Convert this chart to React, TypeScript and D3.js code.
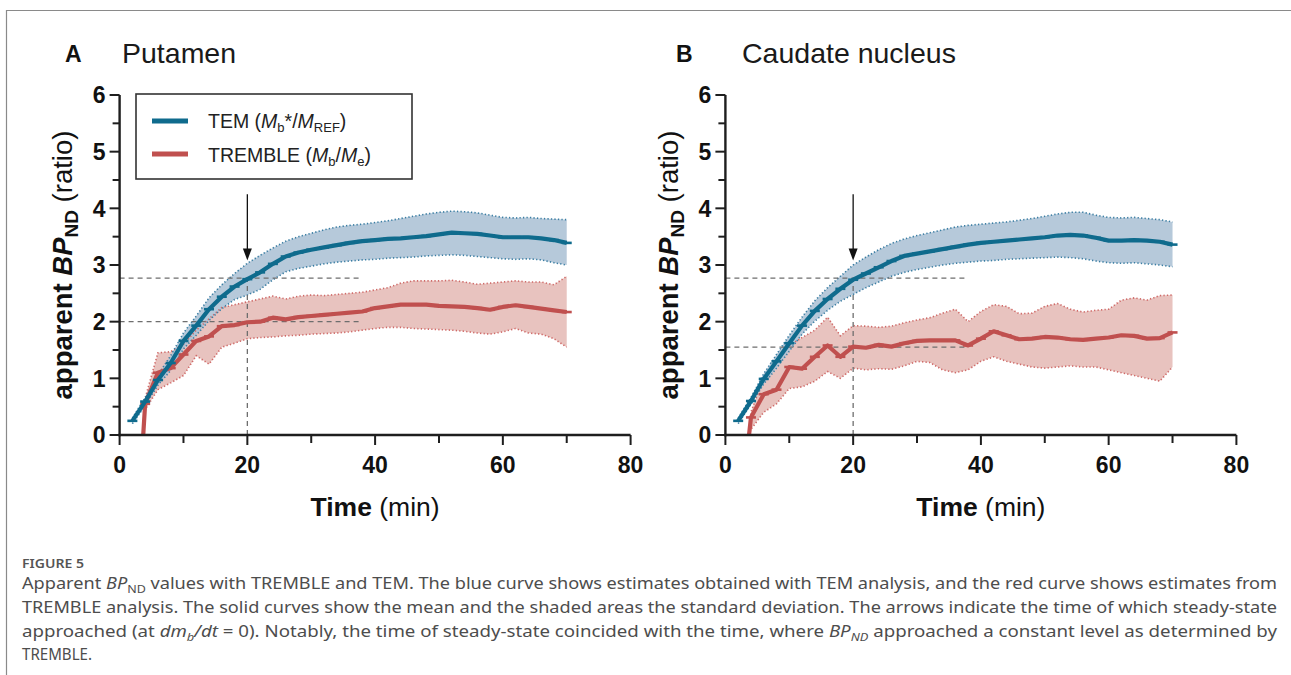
import React from "react";
import * as d3 from "d3";

// ---------- DATA ----------
const TIMES = [2, 4, 6, 8, 10, 12, 14, 16, 18, 20, 22, 24, 26, 28, 30, 32, 34, 36, 38, 40, 42, 44, 46, 48, 50, 52, 54, 56, 58, 60, 62, 64, 66, 68, 70];
const RED_TIMES = [3.7, 4, 6, 8, 10, 12, 14, 16, 18, 20, 22, 24, 26, 28, 30, 32, 34, 36, 38, 40, 42, 44, 46, 48, 50, 52, 54, 56, 58, 60, 62, 64, 66, 68, 70];

// Putamen - TEM
const putTemMean = [0.25, 0.59, 0.97, 1.27, 1.66, 1.93, 2.22, 2.44, 2.62, 2.75, 2.87, 3.02, 3.15, 3.22, 3.27, 3.31, 3.35, 3.39, 3.42, 3.44, 3.46, 3.47, 3.49, 3.51, 3.54, 3.57, 3.56, 3.55, 3.52, 3.49, 3.49, 3.49, 3.47, 3.44, 3.39];
const putTemUpper = [0.3, 0.66, 1.06, 1.4, 1.8, 2.1, 2.42, 2.65, 2.85, 3.03, 3.17, 3.3, 3.42, 3.5, 3.56, 3.62, 3.67, 3.7, 3.72, 3.75, 3.78, 3.82, 3.86, 3.9, 3.93, 3.95, 3.94, 3.92, 3.88, 3.84, 3.83, 3.84, 3.82, 3.81, 3.8];
const putTemLower = [0.2, 0.52, 0.88, 1.14, 1.52, 1.76, 2.02, 2.23, 2.39, 2.47, 2.57, 2.74, 2.88, 2.94, 2.98, 3.02, 3.05, 3.07, 3.09, 3.1, 3.12, 3.13, 3.14, 3.16, 3.17, 3.18, 3.17, 3.15, 3.13, 3.11, 3.1, 3.11, 3.09, 3.04, 3.0];
// Putamen - TREMBLE
const putTreMean = [0, 0.55, 1.1, 1.18, 1.42, 1.66, 1.74, 1.92, 1.94, 1.99, 2.0, 2.07, 2.04, 2.08, 2.1, 2.12, 2.14, 2.16, 2.18, 2.24, 2.27, 2.3, 2.3, 2.3, 2.28, 2.27, 2.26, 2.24, 2.21, 2.26, 2.29, 2.26, 2.23, 2.2, 2.17];
const putTreUpper = [0.05, 0.65, 1.45, 1.47, 1.6, 1.85, 2.05, 2.25, 2.3, 2.35, 2.4, 2.45, 2.4, 2.45, 2.47, 2.46, 2.48, 2.5, 2.52, 2.56, 2.6, 2.68, 2.72, 2.72, 2.72, 2.73, 2.7, 2.66, 2.68, 2.7, 2.72, 2.7, 2.7, 2.65, 2.8];
const putTreLower = [0, 0.45, 0.8, 0.92, 1.05, 1.4, 1.25, 1.55, 1.62, 1.7, 1.72, 1.73, 1.75, 1.76, 1.78, 1.79, 1.8, 1.82, 1.85, 1.88, 1.9, 1.9, 1.88, 1.87, 1.86, 1.85, 1.83, 1.8, 1.78, 1.82, 1.88, 1.8, 1.78, 1.7, 1.55];

// Caudate nucleus - TEM
const cauTemMean = [0.25, 0.6, 0.99, 1.3, 1.62, 1.93, 2.19, 2.4, 2.58, 2.74, 2.85, 2.96, 3.07, 3.16, 3.2, 3.24, 3.28, 3.32, 3.36, 3.39, 3.41, 3.43, 3.45, 3.47, 3.49, 3.52, 3.53, 3.52, 3.48, 3.43, 3.43, 3.44, 3.43, 3.41, 3.36];
const cauTemUpper = [0.3, 0.66, 1.08, 1.42, 1.76, 2.08, 2.37, 2.6, 2.8, 3.0, 3.14, 3.27, 3.38, 3.46, 3.52, 3.57, 3.62, 3.67, 3.7, 3.72, 3.74, 3.76, 3.79, 3.82, 3.86, 3.9, 3.93, 3.93, 3.88, 3.84, 3.83, 3.84, 3.82, 3.8, 3.76];
const cauTemLower = [0.2, 0.54, 0.9, 1.18, 1.48, 1.78, 2.01, 2.2, 2.36, 2.48, 2.6, 2.7, 2.8, 2.87, 2.92, 2.96, 3.0, 3.03, 3.05, 3.07, 3.08, 3.1, 3.11, 3.12, 3.13, 3.14, 3.13, 3.11, 3.07, 3.04, 3.03, 3.04, 3.02, 3.0, 2.97];
// Caudate nucleus - TREMBLE
const cauTreMean = [0, 0.31, 0.72, 0.8, 1.2, 1.17, 1.38, 1.58, 1.38, 1.56, 1.54, 1.59, 1.56, 1.62, 1.66, 1.67, 1.67, 1.67, 1.58, 1.7, 1.83, 1.76, 1.69, 1.7, 1.73, 1.72, 1.69, 1.68, 1.7, 1.72, 1.76, 1.75, 1.7, 1.71, 1.81];
const cauTreUpper = [0.05, 0.4, 1.02, 1.28, 1.58, 1.72, 1.85, 2.08, 1.75, 1.93, 1.92, 1.9, 1.92, 1.98, 2.03, 2.07, 2.15, 2.22, 2.0, 2.18, 2.3, 2.27, 2.14, 2.15, 2.27, 2.32, 2.22, 2.17, 2.2, 2.22, 2.38, 2.42, 2.38, 2.46, 2.47];
const cauTreLower = [0, 0.1, 0.4, 0.55, 0.82, 0.85, 0.95, 1.12, 1.0, 1.18, 1.15, 1.17, 1.16, 1.22, 1.3, 1.28, 1.15, 1.1, 1.15, 1.3, 1.38, 1.3, 1.25, 1.2, 1.18, 1.2, 1.22, 1.2, 1.2, 1.15, 1.1, 1.05, 1.0, 0.95, 1.2];

const X_TICKS = [0, 20, 40, 60, 80];
const X_MINOR = [10, 30, 50, 70];
const Y_TICKS = [0, 1, 2, 3, 4, 5, 6];
const Y_MINOR = [0.5, 1.5, 2.5, 3.5, 4.5, 5.5];

const STEADY_TIME = 20;
const TEM_LEVEL = 2.77;
const PUT_TRE_LEVEL = 2.0;
const CAU_TRE_LEVEL = 1.55;
const REF_END = 37.5;
const ARROW_FROM = 4.25;
const ARROW_TO = 3.08;

// ---------- STYLE ----------
const BLUE = "#0f6b8d";
const BLUE_BAND = "#aec3d6";
const BLUE_DOT = "#3b7ea3";
const RED = "#c0504f";
const RED_BAND = "#e8c3bf";
const RED_DOT = "#cf6a68";
const FONT = "'Liberation Sans', Arial, Helvetica, sans-serif";
const AXIS = "#1e1e1e";

const Y_TOP = 95;
const Y_BOT = 435;
const PLOT_W = 511;

type Series = { t: number[]; mean: number[]; upper: number[]; lower: number[] };

function Panel(props: {
  axisX: number;
  letter: string;
  letterX: number;
  title: string;
  titleX: number;
  tem: Series;
  tre: Series;
  treLevel: number;
  legend: boolean;
}) {
  const { axisX, tem, tre } = props;
  const x = d3.scaleLinear().domain([0, 80]).range([axisX, axisX + PLOT_W]);
  const y = d3.scaleLinear().domain([0, 6]).range([Y_BOT, Y_TOP]);

  const band = (s: Series) =>
    d3
      .area<number>()
      .x((_, i) => x(s.t[i]))
      .y0((_, i) => y(s.lower[i]))
      .y1((_, i) => y(s.upper[i]))(s.t)!;
  const line = (ts: number[], vs: number[]) =>
    d3
      .line<number>()
      .x((_, i) => x(ts[i]))
      .y((_, i) => y(vs[i]))(ts)!;

  const markers = (s: Series, color: string, skipFirst: boolean) =>
    s.t.map((t, i) =>
      skipFirst && i === 0 ? null : (
        <line
          key={i}
          x1={x(t) - 5}
          x2={x(t) + 5}
          y1={y(s.mean[i])}
          y2={y(s.mean[i])}
          stroke={color}
          strokeWidth={2.6}
        />
      )
    );

  const ax = x(0);
  return (
    <g>
      {/* title */}
      <text x={props.letterX} y={62} fontFamily={FONT} fontWeight="bold" fontSize={23} fill="#111">
        {props.letter}
      </text>
      <text x={props.titleX} y={63} fontFamily={FONT} fontSize={28.5} fill="#1a1a1a">
        {props.title}
      </text>

      {/* bands */}
      <path d={band(tre)} fill={RED_BAND} />
      <path d={band(tem)} fill={BLUE_BAND} fillOpacity={0.9} />
      <path d={line(tre.t, tre.upper)} fill="none" stroke={RED_DOT} strokeWidth={1.6} strokeDasharray="1.3 2.2" />
      <path d={line(tre.t, tre.lower)} fill="none" stroke={RED_DOT} strokeWidth={1.6} strokeDasharray="1.3 2.2" />
      <path d={line(tem.t, tem.upper)} fill="none" stroke={BLUE_DOT} strokeWidth={1.6} strokeDasharray="1.3 2.2" />
      <path d={line(tem.t, tem.lower)} fill="none" stroke={BLUE_DOT} strokeWidth={1.6} strokeDasharray="1.3 2.2" />

      {/* reference dashed lines */}
      <line x1={ax} x2={x(REF_END)} y1={y(TEM_LEVEL)} y2={y(TEM_LEVEL)} stroke="#6e6e6e" strokeWidth={1.3} strokeDasharray="5 4" />
      <line x1={ax} x2={x(REF_END)} y1={y(props.treLevel)} y2={y(props.treLevel)} stroke="#6e6e6e" strokeWidth={1.3} strokeDasharray="5 4" />
      <line x1={x(STEADY_TIME)} x2={x(STEADY_TIME)} y1={y(0)} y2={y(TEM_LEVEL)} stroke="#6e6e6e" strokeWidth={1.3} strokeDasharray="5 4" />

      {/* mean curves */}
      <path d={line(tre.t, tre.mean)} fill="none" stroke={RED} strokeWidth={4.2} strokeLinejoin="round" />
      {markers(tre, RED, true)}
      <path d={line(tem.t, tem.mean)} fill="none" stroke={BLUE} strokeWidth={4.2} strokeLinejoin="round" />
      {markers(tem, BLUE, false)}

      {/* arrow */}
      <line x1={x(STEADY_TIME)} x2={x(STEADY_TIME)} y1={y(ARROW_FROM)} y2={y(ARROW_TO) - 8} stroke="#111" strokeWidth={1.3} />
      <path
        d={`M${x(STEADY_TIME) - 4.5},${y(ARROW_TO) - 12} L${x(STEADY_TIME) + 4.5},${y(ARROW_TO) - 12} L${x(STEADY_TIME)},${y(ARROW_TO)} Z`}
        fill="#111"
      />

      {/* axes */}
      <line x1={ax} x2={ax} y1={y(0) + 1.2} y2={y(6)} stroke={AXIS} strokeWidth={2.4} />
      <line x1={ax - 1.2} x2={x(80)} y1={y(0)} y2={y(0)} stroke={AXIS} strokeWidth={2.4} />
      {Y_TICKS.map((v) => (
        <g key={"yt" + v}>
          <line x1={ax - 10} x2={ax} y1={y(v)} y2={y(v)} stroke={AXIS} strokeWidth={2} />
          <text x={ax - 14} y={y(v)} dy="0.36em" textAnchor="end" fontFamily={FONT} fontWeight="bold" fontSize={23} fill="#111">
            {v}
          </text>
        </g>
      ))}
      {Y_MINOR.map((v) => (
        <line key={"ym" + v} x1={ax - 7} x2={ax} y1={y(v)} y2={y(v)} stroke={AXIS} strokeWidth={2} />
      ))}
      {X_TICKS.map((v) => (
        <g key={"xt" + v}>
          <line x1={x(v)} x2={x(v)} y1={y(0)} y2={y(0) + 10} stroke={AXIS} strokeWidth={2} />
          <text x={x(v)} y={473} textAnchor="middle" fontFamily={FONT} fontWeight="bold" fontSize={23} fill="#111">
            {v}
          </text>
        </g>
      ))}
      {X_MINOR.map((v) => (
        <line key={"xm" + v} x1={x(v)} x2={x(v)} y1={y(0)} y2={y(0) + 8} stroke={AXIS} strokeWidth={2} />
      ))}

      {/* axis titles */}
      <text x={x(40)} y={516} textAnchor="middle" fontFamily={FONT} fontSize={26.5} fill="#111">
        <tspan fontWeight="bold">Time</tspan>
        <tspan> (min)</tspan>
      </text>
      <text transform={`translate(${ax - 47.5},265) rotate(-90)`} textAnchor="middle" fontFamily={FONT} fontSize={27.5} fill="#111">
        <tspan fontWeight="bold">apparent </tspan>
        <tspan fontWeight="bold" fontStyle="italic">BP</tspan>
        <tspan fontWeight="bold" fontSize={19} dy={6}>ND</tspan>
        <tspan dy={-6}> (ratio)</tspan>
      </text>

      {/* legend */}
      {props.legend && (
        <g>
          <rect x={136} y={94} width={276} height={85} fill="white" stroke="#333" strokeWidth={1.6} />
          <line x1={152} x2={188} y1={121} y2={121} stroke={BLUE} strokeWidth={5} />
          <line x1={152} x2={188} y1={154} y2={154} stroke={RED} strokeWidth={5} />
          <text x={208} y={128} fontFamily={FONT} fontSize={19.5} fill="#222">
            <tspan>TEM (</tspan>
            <tspan fontStyle="italic">M</tspan>
            <tspan fontSize={13} dy={4}>b</tspan>
            <tspan dy={-4}>*/</tspan>
            <tspan fontStyle="italic">M</tspan>
            <tspan fontSize={13} dy={4}>REF</tspan>
            <tspan dy={-4}>)</tspan>
          </text>
          <text x={208} y={162} fontFamily={FONT} fontSize={19.5} fill="#222">
            <tspan>TREMBLE (</tspan>
            <tspan fontStyle="italic">M</tspan>
            <tspan fontSize={13} dy={4}>b</tspan>
            <tspan dy={-4}>/</tspan>
            <tspan fontStyle="italic">M</tspan>
            <tspan fontSize={13} dy={4}>e</tspan>
            <tspan dy={-4}>)</tspan>
          </text>
        </g>
      )}
    </g>
  );
}

const CAP_FONT = "'Noto Sans', 'Open Sans', sans-serif";
const CAP_FILL = "#4d4d4d";
const CAP_X = 22;

export default function App() {
  const putTem: Series = { t: TIMES, mean: putTemMean, upper: putTemUpper, lower: putTemLower };
  const putTre: Series = { t: RED_TIMES, mean: putTreMean, upper: putTreUpper, lower: putTreLower };
  const cauTem: Series = { t: TIMES, mean: cauTemMean, upper: cauTemUpper, lower: cauTemLower };
  const cauTre: Series = { t: RED_TIMES, mean: cauTreMean, upper: cauTreUpper, lower: cauTreLower };
  return (
    <svg width={1291} height={675} style={{ position: "absolute", left: 0, top: 0, background: "white" }}>
      <rect x={0} y={0} width={1291} height={675} fill="white" />
      <line x1={6} x2={1291} y1={10.5} y2={10.5} stroke="#8a8a8a" strokeWidth={1.2} />
      <line x1={6.5} x2={6.5} y1={10} y2={675} stroke="#8a8a8a" strokeWidth={1.2} />

      <Panel axisX={119.6} letter="A" letterX={65} title="Putamen" titleX={122} tem={putTem} tre={putTre} treLevel={PUT_TRE_LEVEL} legend={true} />
      <Panel axisX={725.4} letter="B" letterX={676} title="Caudate nucleus" titleX={742} tem={cauTem} tre={cauTre} treLevel={CAU_TRE_LEVEL} legend={false} />

      {/* caption */}
      <text x={CAP_X} y={568} fontFamily={CAP_FONT} fontSize={13} fontWeight={600} fill="#555" textLength={62} lengthAdjust="spacingAndGlyphs">
        FIGURE 5
      </text>
      <text x={CAP_X} y={589} fontFamily={CAP_FONT} fontSize={16} fill={CAP_FILL} textLength={1277 - CAP_X} lengthAdjust="spacingAndGlyphs">
        <tspan>Apparent </tspan>
        <tspan fontStyle="italic">BP</tspan>
        <tspan fontSize={11} dy={4}>ND</tspan>
        <tspan dy={-4}> values with TREMBLE and TEM. The blue curve shows estimates obtained with TEM analysis, and the red curve shows estimates from</tspan>
      </text>
      <text x={CAP_X} y={613} fontFamily={CAP_FONT} fontSize={16} fill={CAP_FILL} textLength={1277 - CAP_X} lengthAdjust="spacingAndGlyphs">
        TREMBLE analysis. The solid curves show the mean and the shaded areas the standard deviation. The arrows indicate the time of which steady-state
      </text>
      <text x={CAP_X} y={637} fontFamily={CAP_FONT} fontSize={16} fill={CAP_FILL} textLength={1277 - CAP_X} lengthAdjust="spacingAndGlyphs">
        <tspan>approached (at </tspan>
        <tspan fontStyle="italic">dm</tspan>
        <tspan fontStyle="italic" fontSize={11} dy={4}>b</tspan>
        <tspan fontStyle="italic" dy={-4}>/dt</tspan>
        <tspan> = 0). Notably, the time of steady-state coincided with the time, where </tspan>
        <tspan fontStyle="italic">BP</tspan>
        <tspan fontStyle="italic" fontSize={11} dy={4}>ND</tspan>
        <tspan dy={-4}> approached a constant level as determined by</tspan>
      </text>
      <text x={CAP_X} y={660} fontFamily={CAP_FONT} fontSize={16} fill={CAP_FILL} textLength={70} lengthAdjust="spacingAndGlyphs">
        TREMBLE.
      </text>
    </svg>
  );
}
